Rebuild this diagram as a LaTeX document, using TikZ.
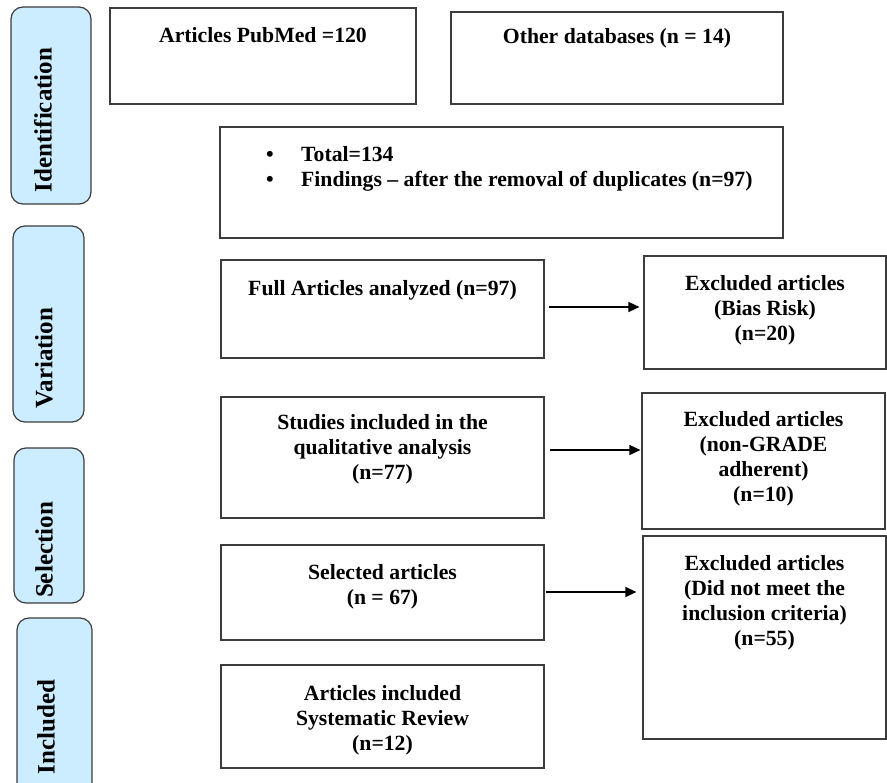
\documentclass[tikz,border=0pt]{standalone}
\usepackage{fontspec}
\setmainfont{Liberation Serif}
\usetikzlibrary{arrows.meta,calc}
\definecolor{phasefill}{RGB}{204,236,255}
\definecolor{edge}{RGB}{60,60,60}
\begin{document}
\begin{tikzpicture}[x=1pt,y=-1pt,
  box/.style={draw=edge,line width=1.2pt,inner sep=0,fill=white},
  phase/.style={draw=edge,line width=1.2pt,fill=phasefill,rounded corners=12pt,inner sep=0},
  txt/.style={font=\fontsize{21.7}{25}\selectfont\bfseries,align=center,inner sep=0,anchor=base},
  ptxt/.style={font=\fontsize{25}{30}\selectfont\bfseries,rotate=90,inner sep=0},
  arr/.style={line width=1.6pt,-{Triangle[length=11pt,width=10pt]}}]
\useasboundingbox (0,0) rectangle (887,783);
% phase labels
\node[phase,minimum width=80pt,minimum height=197pt] (pid) at (51,105.5) {};
\node[phase,minimum width=71pt,minimum height=196pt] (pvar) at (48.5,324) {};
\node[phase,minimum width=70pt,minimum height=155pt] (psel) at (49,525.5) {};
\node[phase,minimum width=75pt,minimum height=177pt] (pinc) at (54.5,706.5) {};
\node[ptxt] (tid) at (43,120) {Identification};
\node[ptxt] (tvar) at (44,358) {Variation};
\node[ptxt] (tsel) at (44,550) {Selection};
\node[ptxt] (tinc) at (46,727) {Included};
% boxes
\node[box,minimum width=306pt,minimum height=96pt] (pub) at (263,56) {};
\node[box,minimum width=332pt,minimum height=92pt] (other) at (617,58) {};
\node[box,minimum width=563pt,minimum height=111pt] (total) at (501.5,182.5) {};
\node[box,minimum width=323pt,minimum height=98pt] (full) at (382.5,309) {};
\node[box,minimum width=242pt,minimum height=113pt] (bias) at (765,312.5) {};
\node[box,minimum width=323pt,minimum height=121pt] (studies) at (382.5,457.5) {};
\node[box,minimum width=243pt,minimum height=136pt] (grade) at (763.5,461) {};
\node[box,minimum width=323pt,minimum height=95pt] (selected) at (382.5,592.5) {};
\node[box,minimum width=323pt,minimum height=103pt] (included) at (382.5,716.5) {};
\node[box,minimum width=243pt,minimum height=203pt] (crit) at (764.5,637.5) {};
% texts (base anchor = baseline of last line)
\node[txt] (tpub) at (263,43) {Articles PubMed =120};
\node[txt] (tother) at (617,44) {Other databases (n = 14)};
\node[txt,anchor=base west,align=left] (ttotal) at (266,187) {\makebox[35pt][l]{\textbullet}Total=134\\\makebox[35pt][l]{\textbullet}Findings -- after the removal of duplicates (n=97)};
\node[txt] (tfull) at (382.5,296) {Full Articles analyzed (n=97)};
\node[txt] (tbias) at (765,341) {Excluded articles\\(Bias Risk)\\(n=20)};
\node[txt] (tstudies) at (382.5,480) {Studies included in the\\qualitative analysis\\(n=77)};
\node[txt] (tgrade) at (763.5,502) {Excluded articles\\(non-GRADE\\adherent)\\(n=10)};
\node[txt] (tselected) at (382.5,605) {Selected articles\\(n = 67)};
\node[txt] (tincluded) at (382.5,750) {Articles included\\Systematic Review\\(n=12)};
\node[txt] (tcrit) at (764.5,645) {Excluded articles\\(Did not meet the\\inclusion criteria)\\(n=55)};
% arrows
\coordinate (a2) at (0,450);
\draw[arr] ($(full.east)+(4,-2)$) -- ($(bias.west|-full.east)+(-4,-2)$);
\draw[arr] ($(studies.east|-a2)+(5,0)$) -- ($(grade.west|-a2)+(-1,0)$);
\draw[arr] ($(selected.east)+(1,-0.5)$) -- ($(crit.west|-selected.east)+(-6,-0.5)$);
\end{tikzpicture}
\end{document}
